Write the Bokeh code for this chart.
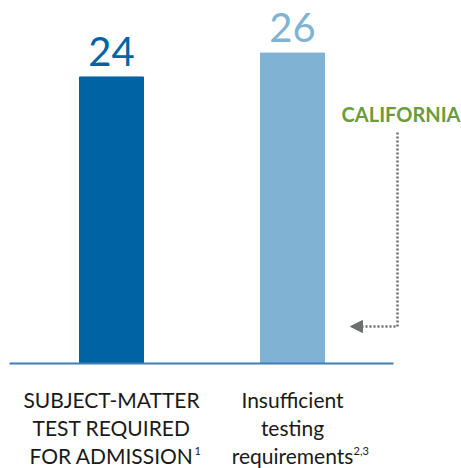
from bokeh.plotting import figure
from bokeh.models import Range1d, ColumnDataSource, Arrow, NormalHead
from bokeh.embed import file_html
from bokeh.resources import INLINE
from bokeh.core.properties import value

# ---- data ----
values = [24, 26]
value_labels = ["24", "26"]
label_lines_1 = ["SUBJECT-MATTER", "TEST REQUIRED", "FOR ADMISSION"]
label_lines_2 = ["Insufficient", "testing", "requirements"]
superscripts = ["1", "2,3"]
bar_colors = ["#0064A4", "#80B3D3"]
annotation_text = "CALIFORNIA"

W, H = 461, 468
PPU = 11.94            # pixels per unit on y
BASE_Y = 363           # pixel row of the zero line (from top)
Y1 = BASE_Y / PPU
Y0 = -(H - BASE_Y) / PPU

def yd(px_y):
    return Y1 - px_y / PPU

def yt(px_y, fs):
    # text renders about 0.38 em below its anchor in the svg output; compensate
    return yd(px_y - 0.38 * fs)

p = figure(width=W, height=H, output_backend="svg", toolbar_location=None,
           x_range=Range1d(0, W), y_range=Range1d(Y0, Y1),
           min_border=0, outline_line_color=None)
p.axis.visible = False
p.grid.visible = False
p.background_fill_color = "white"
p.border_fill_color = "white"

xs = [111, 292]
src = ColumnDataSource(dict(x=xs, top=values, color=bar_colors, lab=value_labels))
p.vbar(x="x", top="top", bottom=0, width=64, color="color", source=src)

# baseline
p.segment(x0=[9], y0=[0], x1=[393], y1=[0], line_color="#3F7FB8", line_width=2)

FONT = "Lato"
VFS = 40
# value labels (a few px above each bar)
lab_y = [v + (10 + 0.38 * VFS) / PPU for v in values]
p.text(x=xs, y=lab_y, text=value_labels, text_color=bar_colors,
       text_font=value(FONT), text_font_size=f"{VFS}px", text_align="center",
       text_baseline="alphabetic")

# category labels
LFS = 21
line_px_y = [407, 435, 463]
for cx, lines in zip(xs, [label_lines_1, label_lines_2]):
    p.text(x=[cx] * 3, y=[yt(yy, LFS) for yy in line_px_y], text=lines,
           text_color="#1a1a1a", text_font=value(FONT), text_font_size=f"{LFS}px",
           text_align="center", text_baseline="alphabetic")

# superscripts
SFS = 11
p.text(x=[194, 353], y=[yd(450)] * 2, text=superscripts, text_color="#1a1a1a",
       text_font=value(FONT), text_font_size=f"{SFS}px", text_align="left",
       text_baseline="alphabetic")

# CALIFORNIA annotation
CFS = 20
p.text(x=[460], y=[yt(121, CFS)], text=[annotation_text], text_color="#6B9B3A",
       text_font=value(FONT), text_font_size=f"{CFS}px", text_font_style="bold",
       text_align="right", text_baseline="alphabetic")

# dotted connector
p.line(x=[397, 397, 362], y=[yd(132), yd(326), yd(326)],
       line_color="#6d6e71", line_width=2.5, line_dash="2 2")
p.add_layout(Arrow(end=NormalHead(size=12, fill_color="#6d6e71", line_color="#6d6e71"),
                   x_start=364, y_start=yd(326), x_end=350, y_end=yd(326),
                   line_color="#6d6e71", line_width=0))

open("out.html", "w").write(file_html(p, INLINE))
